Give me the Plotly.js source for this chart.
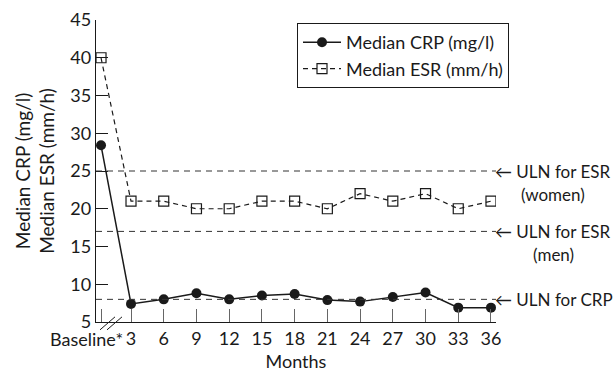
<!DOCTYPE html>
<html><head><meta charset="utf-8">
<script src="https://cdn.plot.ly/plotly-3.0.1.min.js"></script>
<style>body{margin:0;background:#fff}#chart{width:615px;height:372px}</style>
</head><body><div id="chart"></div>
<script>
// Data
const monthLabels = ['Baseline*', '3', '6', '9', '12', '15', '18', '21', '24', '27', '30', '33', '36'];
const months = [0, 3, 6, 9, 12, 15, 18, 21, 24, 27, 30, 33, 36];
const crpMedian = [28.4, 7.4, 8.0, 8.8, 8.0, 8.5, 8.7, 7.9, 7.7, 8.3, 8.9, 6.9, 6.9];
const esrMedian = [40, 21, 21, 20, 20, 21, 21, 20, 22, 21, 22, 20, 21];
const ulnValues = [25, 17, 8];
const ulnLabels = ['ULN for ESR', 'ULN for ESR', 'ULN for CRP'];
const ulnSubLabels = ['(women)', '(men)', ''];
const yTicks = [5, 10, 15, 20, 25, 30, 35, 40, 45];

// baseline sits just after the axis break
const xPos = months.map(m => m === 0 ? 0.25 : m);

const FONT = 'Lato, "Noto Sans", sans-serif';
const INK = '#1a1a1a';
const FS = 18;

const traces = [
  {
    x: xPos, y: crpMedian, name: 'Median CRP (mg/l)', type: 'scatter', mode: 'lines+markers',
    line: {color: INK, width: 1.5},
    marker: {symbol: 'circle', size: 10, color: INK}
  },
  {
    x: xPos, y: esrMedian, name: 'Median ESR (mm/h)', type: 'scatter', mode: 'lines+markers',
    line: {color: INK, width: 1.2, dash: '5px,4px'},
    marker: {symbol: 'square-open', size: 10, color: INK, line: {width: 1.2}}
  }
];

const shapes = ulnValues.map(v => ({
  type: 'line', xref: 'paper', x0: 0, x1: 1, yref: 'y', y0: v, y1: v,
  line: {color: '#333', width: 1, dash: '6px,5px'}
}));
// axis break marks
shapes.push(
  {type: 'line', xref: 'paper', yref: 'paper', x0: 0.010, x1: 0.0475, y0: -0.026, y1: 0.017, line: {color: INK, width: 1}},
  {type: 'line', xref: 'paper', yref: 'paper', x0: 0.0275, x1: 0.065, y0: -0.026, y1: 0.017, line: {color: INK, width: 1}}
);

const annotations = [];
ulnValues.forEach((v, i) => {
  annotations.push({
    xref: 'paper', yref: 'y', x: 1.0, y: v, xanchor: 'left', yanchor: 'middle',
    text: '← ' + ulnLabels[i], showarrow: false, xshift: -3,
    font: {family: FONT, size: 17, color: INK}
  });
  if (ulnSubLabels[i]) {
    annotations.push({
      xref: 'paper', yref: 'y', x: 1.0, y: v, xanchor: 'center', yanchor: 'middle',
      text: ulnSubLabels[i], showarrow: false, xshift: 57, yshift: -23,
      font: {family: FONT, size: 17, color: INK}
    });
  }
});
annotations.push({
  xref: 'x', yref: 'paper', x: xPos[0], y: 0, xanchor: 'right', yanchor: 'top',
  text: monthLabels[0], showarrow: false, xshift: 24, yshift: -4,
  font: {family: FONT, size: FS, color: INK}
});

const layout = {
  width: 615, height: 372,
  margin: {l: 96, r: 119, t: 20, b: 50},
  paper_bgcolor: '#fff', plot_bgcolor: '#fff',
  font: {family: FONT, size: FS, color: INK},
  showlegend: true,
  legend: {
    x: 0.5025, y: 0.99, xanchor: 'left', yanchor: 'top',
    bordercolor: INK, borderwidth: 1, bgcolor: '#fff',
    font: {family: FONT, size: FS, color: INK},
    itemwidth: 38,
    tracegroupgap: 0
  },
  xaxis: {
    range: [-0.21, 36.46],
    tickmode: 'array',
    tickvals: xPos,
    ticktext: [''].concat(monthLabels.slice(1)),
    ticks: 'inside', ticklen: 13, tickwidth: 1, tickcolor: '#666',
    showline: true, linecolor: INK, linewidth: 1.2,
    showgrid: false, zeroline: false,
    tickfont: {family: FONT, size: FS, color: INK},
    title: {text: 'Months', font: {family: FONT, size: FS, color: INK}, standoff: 9}
  },
  yaxis: {
    range: [5, 45],
    tickmode: 'array', tickvals: yTicks,
    ticks: 'inside', ticklen: 12, tickwidth: 1, tickcolor: INK,
    showline: true, linecolor: INK, linewidth: 1.2,
    showgrid: false, zeroline: false,
    tickfont: {family: FONT, size: FS, color: INK},
    title: {text: 'Median CRP (mg/l)<br>Median ESR (mm/h)', font: {family: FONT, size: FS + 1, color: INK}, standoff: 10}
  },
  shapes: shapes,
  annotations: annotations
};

Plotly.newPlot('chart', traces, layout, {displayModeBar: false, staticPlot: true});
</script>
</body></html>
